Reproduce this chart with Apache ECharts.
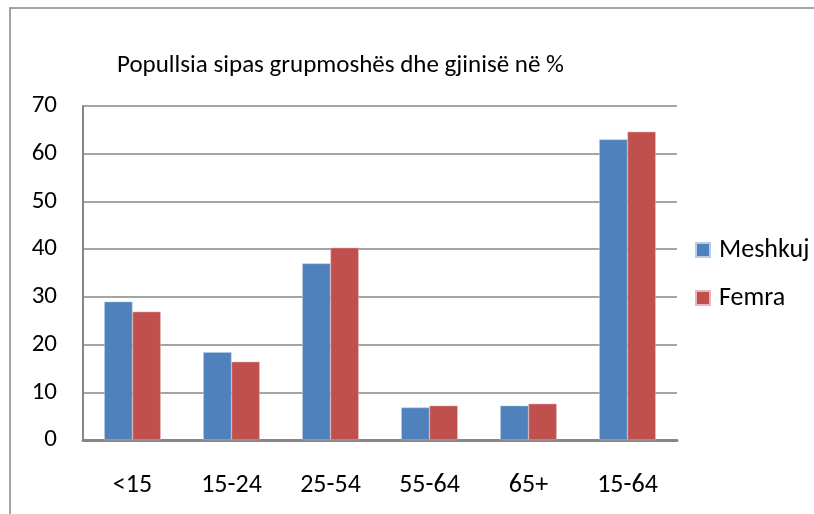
<!DOCTYPE html>
<html>
<head>
<meta charset="utf-8">
<script src="https://cdn.jsdelivr.net/npm/echarts@6/dist/echarts.min.js"></script>
<style>
  html, body { margin: 0; padding: 0; background: #fff; }
  #chart { width: 814px; height: 514px; }
</style>
</head>
<body>
<div id="chart"></div>
<script>
// grupmoshat (x)
const categories = ['<15', '15-24', '25-54', '55-64', '65+', '15-64'];
// vlerat ne %
const meshkuj = [29.0, 18.4, 37.0, 6.8, 7.2, 63.0];
const femra = [26.9, 16.4, 40.3, 7.2, 7.6, 64.6];
const seriesNames = ['Meshkuj', 'Femra'];
const titleText = 'Popullsia sipas grupmoshës dhe gjinisë në %';

const font = 'Carlito, Calibri, Lato, "Open Sans", sans-serif';
const chart = echarts.init(document.getElementById('chart'));

const option = {
  backgroundColor: '#fff',
  animation: false,
  textStyle: { fontFamily: font, color: '#000' },
  title: {
    text: titleText,
    left: 112,
    top: 48,
    textStyle: { fontFamily: font, fontSize: 25, fontWeight: 'normal', color: '#000' }
  },
  legend: {
    data: seriesNames,
    orient: 'vertical',
    left: 690,
    top: 232,
    itemWidth: 14,
    itemHeight: 14,
    itemGap: 22,
    icon: 'rect',
    textStyle: { fontFamily: font, fontSize: 26, color: '#000', padding: [0, 0, 0, 4] }
  },
  grid: { left: 83, right: 137, top: 106, bottom: 74 },
  graphic: [{
    type: 'rect',
    shape: { x: 10, y: 8, width: 820, height: 520 },
    style: { fill: 'none', stroke: '#868686', lineWidth: 1.5 },
    silent: true
  }],
  xAxis: {
    type: 'category',
    data: categories,
    axisLine: { lineStyle: { color: '#868686', width: 3 } },
    axisTick: { show: false },
    axisLabel: { fontFamily: font, fontSize: 26, color: '#000', margin: 32 }
  },
  yAxis: {
    type: 'value',
    min: 0,
    max: 70,
    interval: 10,
    axisLine: { show: true, lineStyle: { color: '#868686', width: 2 } },
    axisTick: { show: false },
    splitLine: { lineStyle: { color: '#868686', width: 1.5 } },
    axisLabel: { fontFamily: font, fontSize: 25, color: '#000', margin: 26 }
  },
  series: [
    {
      name: seriesNames[0],
      type: 'bar',
      data: meshkuj,
      barGap: '0%',
      barCategoryGap: '43%',
      itemStyle: { color: '#4f81bd', borderColor: '#b9cde5', borderWidth: 0.5 }
    },
    {
      name: seriesNames[1],
      type: 'bar',
      data: femra,
      itemStyle: { color: '#c0504d', borderColor: '#e6b9b8', borderWidth: 0.5 }
    }
  ]
};

chart.setOption(option);
</script>
</body>
</html>
